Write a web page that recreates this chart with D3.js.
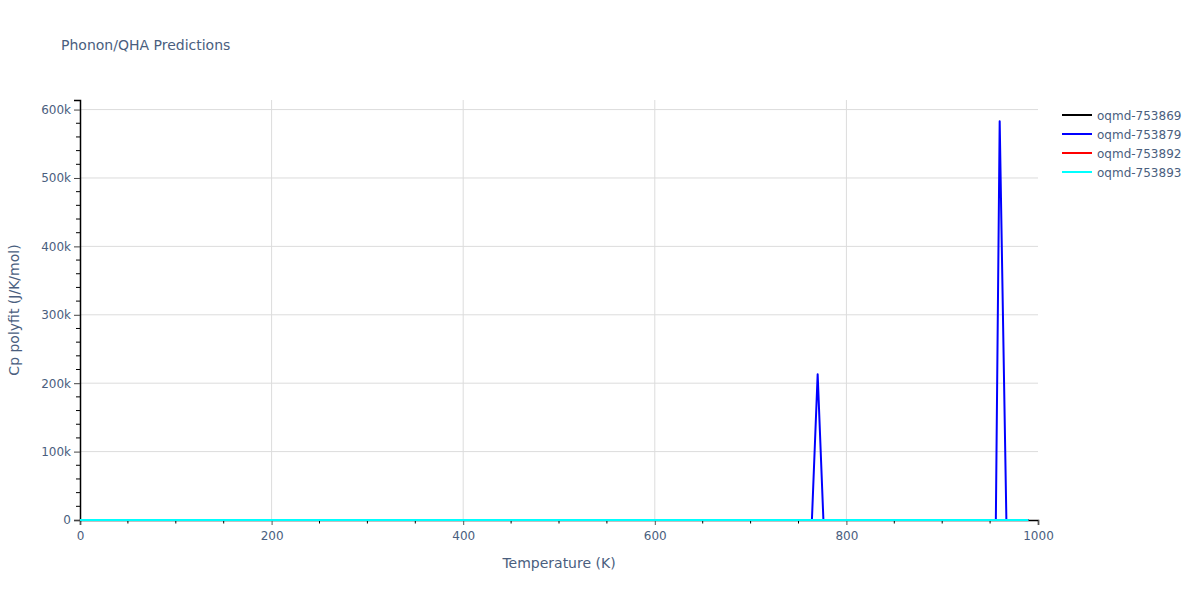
<!DOCTYPE html>
<html>
<head>
<meta charset="utf-8">
<script src="https://cdn.jsdelivr.net/npm/d3@7"></script>
<style>
  html, body { margin: 0; padding: 0; background: #fff; }
  svg { display: block; font-family: "DejaVu Sans", verdana, arial, sans-serif; }
</style>
</head>
<body>
<svg id="chart" width="1200" height="600"></svg>
<script>
// ---- data ----
const seriesNames = ["oqmd-753869", "oqmd-753879", "oqmd-753892", "oqmd-753893"];
const seriesColors = ["#000000", "#0000ff", "#ff0000", "#00ffff"];
const tempBlack = [0, 990];
const cpBlack = [0, 0];
const tempBlue = [0, 764, 770, 776, 956, 960, 967, 990];
const cpBlue = [0, 0, 213000, 0, 0, 583000, 0, 0];
const tempRed = [0, 990];
const cpRed = [0, 0];
const tempCyan = [0, 990];
const cpCyan = [0, 0];
const xTickValues = [0, 200, 400, 600, 800, 1000];
const yTickValues = [0, 100000, 200000, 300000, 400000, 500000, 600000];
const titleText = "Phonon/QHA Predictions";
const xTitle = "Temperature (K)";
const yTitle = "Cp polyfit (J/K/mol)";

const seriesTemps = [tempBlack, tempBlue, tempRed, tempCyan];
const seriesCps = [cpBlack, cpBlue, cpRed, cpCyan];

(function () {
// ---- layout ----
const svg = d3.select("#chart");
const pL = 80, pR = 1038, pT = 100, pB = 520;
const x = d3.scaleLinear().domain([0, 1000]).range([pL, pR]);
const y = d3.scaleLinear().domain([0, 614000]).range([pB, pT]);
const textColor = "#4a5e7e";
const gridColor = "#dcdcdc";
const ff = "DejaVu Sans, verdana, arial, sans-serif";

// grid
svg.append("g").selectAll("line").data(xTickValues.filter(d => d > 0 && d < 1000)).join("line")
  .attr("x1", d => x(d)).attr("x2", d => x(d)).attr("y1", pT).attr("y2", pB)
  .attr("stroke", gridColor).attr("stroke-width", 1);
svg.append("g").selectAll("line").data(yTickValues.filter(d => d > 0)).join("line")
  .attr("x1", pL).attr("x2", pR).attr("y1", d => y(d)).attr("y2", d => y(d))
  .attr("stroke", gridColor).attr("stroke-width", 1);

// clip
svg.append("clipPath").attr("id", "plotclip").append("rect")
  .attr("x", pL).attr("y", pT).attr("width", pR - pL).attr("height", pB - pT + 1);

// axes
const xAxis = d3.axisBottom(x).tickValues(xTickValues).tickSize(5).tickPadding(6).tickFormat(d3.format("d"));
const gx = svg.append("g").attr("transform", `translate(0,${pB})`).call(xAxis);
gx.select(".domain").attr("stroke", "#000").attr("stroke-width", 1.5);
gx.selectAll(".tick line").attr("stroke", "#555");
gx.selectAll(".tick text").attr("fill", textColor).attr("font-size", 12).attr("font-family", ff);

const xMinor = d3.range(50, 1000, 50).filter(d => d % 200 !== 0);
svg.append("g").selectAll("line").data(xMinor).join("line")
  .attr("x1", d => x(d)).attr("x2", d => x(d)).attr("y1", pB).attr("y2", pB + 3.5)
  .attr("stroke", "#000").attr("stroke-width", 1);

const yAxis = d3.axisLeft(y).tickValues(yTickValues).tickSize(6).tickPadding(3)
  .tickFormat(d => d === 0 ? "0" : (d / 1000) + "k");
const gy = svg.append("g").attr("transform", `translate(${pL},0)`).call(yAxis);
gy.select(".domain").attr("stroke", "#000").attr("stroke-width", 1.5);
gy.selectAll(".tick line").attr("stroke", "#444");
gy.selectAll(".tick text").attr("fill", textColor).attr("font-size", 12).attr("font-family", ff);

const yMinor = d3.range(20000, 614000, 20000).filter(d => d % 100000 !== 0);
svg.append("g").selectAll("line").data(yMinor).join("line")
  .attr("x1", pL - 4).attr("x2", pL).attr("y1", d => y(d)).attr("y2", d => y(d))
  .attr("stroke", "#000").attr("stroke-width", 1);

// lines
const lineGen = d3.line().x(d => x(d[0])).y(d => y(d[1]));
const plot = svg.append("g").attr("clip-path", "url(#plotclip)");
seriesNames.forEach((name, i) => {
  const pts = seriesTemps[i].map((t, j) => [t, seriesCps[i][j]]);
  plot.append("path").datum(pts).attr("d", lineGen)
    .attr("fill", "none").attr("stroke", seriesColors[i]).attr("stroke-width", 2)
    .attr("stroke-linejoin", "round");
});

// titles
svg.append("text").attr("x", 61).attr("y", 50).text(titleText)
  .attr("fill", textColor).attr("font-size", 14);
svg.append("text").attr("x", (pL + pR) / 2).attr("y", 568).attr("text-anchor", "middle")
  .text(xTitle).attr("fill", textColor).attr("font-size", 14);
svg.append("text").attr("transform", `translate(19,${(pT + pB) / 2}) rotate(-90)`)
  .attr("text-anchor", "middle").text(yTitle).attr("fill", textColor).attr("font-size", 14);

// legend
const legend = svg.append("g");
seriesNames.forEach((name, i) => {
  const ly = 115 + i * 19;
  legend.append("line").attr("x1", 1062).attr("x2", 1092).attr("y1", ly).attr("y2", ly)
    .attr("stroke", seriesColors[i]).attr("stroke-width", 2);
  legend.append("text").attr("x", 1097).attr("y", ly + 4.5).text(name)
    .attr("fill", textColor).attr("font-size", 12);
});
})();
</script>
</body>
</html>
